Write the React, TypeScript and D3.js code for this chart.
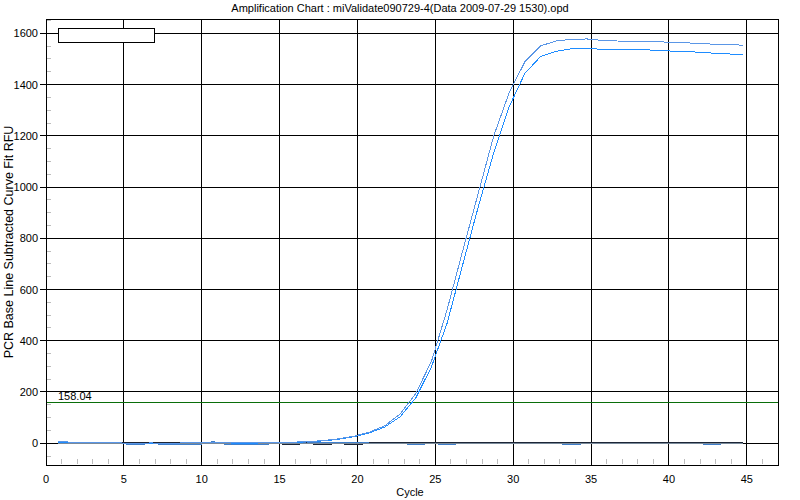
import React from 'react'
import * as d3 from 'd3'

const width = 800
const height = 500
const margin = { top: 19, right: 22, bottom: 35, left: 46 }

const title = 'Amplification Chart : miValidate090729-4(Data 2009-07-29 1530).opd'
const yLabel = 'PCR Base Line Subtracted Curve Fit RFU'
const xLabel = 'Cycle'
const threshold = 158.04

const cycles = [
  1, 2, 3, 4, 5, 6, 7, 8, 9, 10, 11, 12, 13, 14, 15, 16, 17, 18, 19, 20, 21, 22, 23,
  24, 25, 26, 27, 28, 29, 30, 31, 32, 33, 34, 35, 36, 37, 38, 39, 40, 41, 42, 43, 44, 45,
]
// two amplifying wells
const wellA = [
  8, 3, 2, 2, 1, 0, 1, 0, 1, 2, 3, 1, 1, 1, 2, 4, 6, 10, 17, 27, 43, 68, 115,
  195, 320, 520, 750, 975, 1200, 1370, 1489, 1551, 1570, 1577, 1578, 1572, 1570, 1570, 1570, 1566, 1564, 1561, 1558, 1556, 1554,
]
const wellB = [
  4, 4, 4, 4, 1, 0, 0, 0, 1, 4, 4, 1, 0, 1, 2, 4, 5, 9, 15, 25, 40, 63, 104,
  178, 298, 468, 696, 922, 1135, 1315, 1444, 1509, 1530, 1540, 1542, 1537, 1535, 1535, 1535, 1532, 1529, 1527, 1523, 1520, 1516,
]
// flat wells
const wellNeg1 = [
  0, 0, 0, 0, 0, -5, 0, -5, -5, -5, 5, -5, -5, -5, 0, 0, 0, 0, 0, 0, 0, 0, 0,
  -5, 0, -5, 0, 0, 0, 0, 0, 0, 0, -5, 0, 0, 0, 0, 0, 0, 0, 0, -5, 0, 0,
]
const wellNeg2 = [
  0, 0, 0, 0, 0, 0, 0, 0, 0, 0, 0, 0, 0, 0, 0, -5, 0, -5, 0, -5, 0, 0, 0,
  0, 0, 0, 0, 0, 0, 0, 0, 0, 0, 0, 0, 0, 0, 0, 0, 0, 0, 0, 0, 0, 0,
]
const wellZero = cycles.map(() => 0)

const yTicks = [0, 200, 400, 600, 800, 1000, 1200, 1400, 1600]
const xTicks = [0, 5, 10, 15, 20, 25, 30, 35, 40, 45]
const yMinor = [-50, 50, 100, 150, 250, 300, 350, 450, 500, 550, 650, 700, 750, 850, 900, 950, 1050, 1100, 1150, 1250, 1300, 1350, 1450, 1500, 1550, 1650]
const xMinor = [1, 2, 3, 4, 6, 7, 8, 9, 11, 12, 13, 14, 16, 17, 18, 19, 21, 22, 23, 24, 26, 27, 28, 29, 31, 32, 33, 34, 36, 37, 38, 39, 41, 42, 43, 44, 46]

const cycleShift = 0.25
const font = 'Liberation Sans, Arial, sans-serif'

const x = d3.scaleLinear().domain([0, 47]).range([margin.left, width - margin.right])
const y = d3.scaleLinear().domain([-85, 1656]).range([height - margin.bottom, margin.top])

const line = (vals: number[]) =>
  d3.line<number>()
    .x((d, i) => x(cycles[i] - cycleShift))
    .y(d => y(d))(vals) as string

const App = () => {
  const L = margin.left
  const R = width - margin.right
  const T = margin.top
  const B = height - margin.bottom
  return (
    <svg width={width} height={height} style={{ position: 'absolute', left: 0, top: 0, background: '#fff' }}>
      <text x={400} y={12} textAnchor="middle" fontFamily={font} fontSize={11}>{title}</text>

      {/* grid */}
      <g shapeRendering="crispEdges" stroke="#000" strokeWidth={1}>
        {yTicks.map(t => <line key={'gy' + t} x1={L - 6} x2={R} y1={y(t)} y2={y(t)} />)}
        {xTicks.filter(t => t > 0).map(t => <line key={'gx' + t} x1={x(t)} x2={x(t)} y1={T} y2={B} />)}
      </g>
      <g shapeRendering="crispEdges" stroke="#bdbdbd" strokeWidth={1}>
        {yMinor.map(t => <line key={'my' + t} x1={L} x2={L + 5} y1={y(t)} y2={y(t)} />)}
        {xMinor.map(t => <line key={'mx' + t} x1={x(t)} x2={x(t)} y1={B - 6} y2={B - 1} />)}
      </g>

      {/* threshold */}
      <line x1={L} x2={R} y1={y(threshold)} y2={y(threshold)} stroke="#0a6e0a" strokeWidth={1} shapeRendering="crispEdges" />
      <text x={L + 12} y={y(threshold) - 3} fontFamily={font} fontSize={11}>{threshold.toFixed(2)}</text>

      {/* wells */}
      <g fill="none" shapeRendering="crispEdges">
        <path d={line(wellNeg1)} stroke="#3f7fcb" strokeWidth={1.5} />
        <path d={line(wellNeg2)} stroke="#1c2636" strokeWidth={1.5} />
        <path d={line(wellZero)} stroke="#7a8a9a" strokeWidth={1} />
        <path d={line(wellB)} stroke="#1e8cff" strokeWidth={1} />
        <path d={line(wellA)} stroke="#5a96e6" strokeWidth={1} />
      </g>

      {/* frame */}
      <rect x={L} y={T} width={R - L} height={B - T} fill="none" stroke="#000" shapeRendering="crispEdges" />

      {/* legend box */}
      <rect x={58} y={28} width={96} height={14} fill="#fff" stroke="#000" shapeRendering="crispEdges" />

      {/* axis labels */}
      {yTicks.map(t => (
        <text key={'ly' + t} x={L - 8} y={y(t) + 4} textAnchor="end" fontFamily={font} fontSize={11}>{t}</text>
      ))}
      {xTicks.map(t => (
        <text key={'lx' + t} x={x(t)} y={B + 18} textAnchor="middle" fontFamily={font} fontSize={11}>{t}</text>
      ))}
      <text x={410} y={496} textAnchor="middle" fontFamily={font} fontSize={11}>{xLabel}</text>
      <text transform={`translate(13,${(T + B) / 2}) rotate(-90)`} textAnchor="middle" fontFamily={font} fontSize={12.5}>{yLabel}</text>
    </svg>
  )
}

export default App
